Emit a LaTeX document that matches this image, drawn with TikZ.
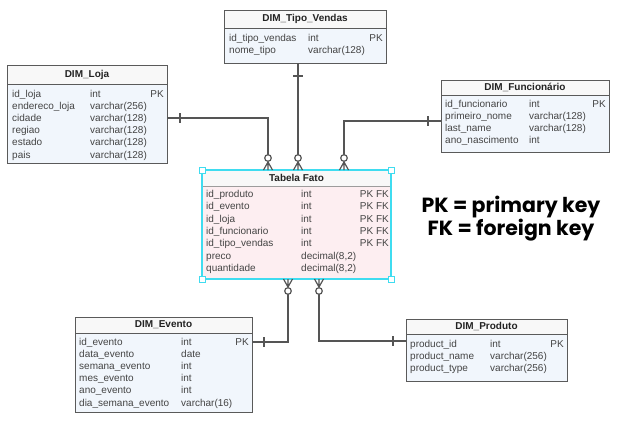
\documentclass[tikz,border=0pt]{standalone}
\usepackage{fontspec}
\setmainfont{Liberation Sans}
\newfontfamily\legendfont{Poppins}
\usetikzlibrary{calc}
\definecolor{boxline}{HTML}{5A5A5A}
\definecolor{boxfill}{HTML}{F1F6FC}
\definecolor{hdrfill}{HTML}{F8F8F8}
\definecolor{factfill}{HTML}{FDEEF1}
\definecolor{selcyan}{HTML}{3FDCF0}
\definecolor{conncol}{HTML}{555555}
\definecolor{rowcol}{HTML}{444444}
\definecolor{titlecol}{HTML}{222222}
\newcommand\erow[9]{%
  \node[rowtxt] (#1n#2) at (#4,#3) {#5};
  \node[rowtxt] (#1t#2) at (#6,#3) {#7};
  \node[keytxt] (#1k#2) at (#8,#3) {#9};
}
\begin{document}
\begin{tikzpicture}[x=1pt,y=-1pt,
  tbl/.style={draw=boxline,line width=0.9pt,fill=boxfill,anchor=north west,inner sep=0pt,outer sep=0pt},
  hdr/.style={draw=boxline,line width=0.9pt,fill=hdrfill,anchor=north west,inner sep=0pt,outer sep=0pt},
  ttl/.style={font=\fontsize{10}{12}\selectfont\bfseries,text=titlecol,inner sep=0pt},
  rowtxt/.style={font=\fontsize{10}{12}\selectfont,text=rowcol,anchor=base west,inner sep=0pt},
  keytxt/.style={font=\fontsize{10}{12}\selectfont,text=rowcol,anchor=base east,inner sep=0pt},
  conn/.style={draw=conncol,line width=1.2pt},
  handle/.style={draw=selcyan,fill=white,line width=1pt,minimum size=6pt,inner sep=0pt,outer sep=0pt},
  legend/.style={font=\legendfont\bfseries\fontsize{20.5}{17}\selectfont,text=black,anchor=base,inner sep=0pt},
  crowdown/.pic={
    \draw[conn] (-4.5,0) -- (0,-8) -- (4.5,0) (0,0) -- (0,-8);
    \draw[conn,fill=white] (0,-12) circle (3.3pt);
  },
  crowup/.pic={
    \draw[conn] (-4.5,0) -- (0,8) -- (4.5,0) (0,0) -- (0,8);
    \draw[conn,fill=white] (0,12) circle (3.3pt);
  }]
\useasboundingbox[fill=white] (0,0) rectangle (624,421);

% ---------- DIM_Tipo_Vendas ----------
\node[tbl,minimum width=162pt,minimum height=53pt] (tipo) at (224,10) {};
\node[hdr,minimum width=162pt,minimum height=18pt] (tipoh) at (224,10) {};
\node[ttl] (tipot) at (tipoh.center) {DIM\_Tipo\_Vendas};
\erow{tipo}{1}{41}{229}{id\_tipo\_vendas}{308}{int}{383}{PK}
\erow{tipo}{2}{53}{229}{nome\_tipo}{308}{varchar(128)}{383}{}

% ---------- DIM_Loja ----------
\node[tbl,minimum width=160pt,minimum height=98pt] (loja) at (7,65) {};
\node[hdr,minimum width=160pt,minimum height=19pt] (lojah) at (7,65) {};
\node[ttl] (lojat) at (lojah.center) {DIM\_Loja};
\erow{loja}{1}{97}{12}{id\_loja}{90}{int}{164}{PK}
\erow{loja}{2}{109.2}{12}{endereco\_loja}{90}{varchar(256)}{164}{}
\erow{loja}{3}{121.4}{12}{cidade}{90}{varchar(128)}{164}{}
\erow{loja}{4}{133.6}{12}{regiao}{90}{varchar(128)}{164}{}
\erow{loja}{5}{145.8}{12}{estado}{90}{varchar(128)}{164}{}
\erow{loja}{6}{158}{12}{pais}{90}{varchar(128)}{164}{}

% ---------- DIM_Funcionario ----------
\node[tbl,minimum width=168pt,minimum height=72pt] (func) at (441,80) {};
\node[hdr,minimum width=168pt,minimum height=15pt] (funch) at (441,80) {};
\node[ttl] (funct) at (funch.center) {DIM\_Funcionário};
\erow{func}{1}{107.5}{445}{id\_funcionario}{529}{int}{606}{PK}
\erow{func}{2}{119.5}{445}{primeiro\_nome}{529}{varchar(128)}{606}{}
\erow{func}{3}{131.5}{445}{last\_name}{529}{varchar(128)}{606}{}
\erow{func}{4}{143.5}{445}{ano\_nascimento}{529}{int}{606}{}

% ---------- Tabela Fato ----------
\node[anchor=north west,fill=factfill,minimum width=189pt,minimum height=109pt,inner sep=0pt,outer sep=0pt] (fact) at (202,170) {};
\node[anchor=north west,fill=hdrfill,minimum width=189pt,minimum height=16pt,inner sep=0pt,outer sep=0pt] (facth) at (202,170) {};
\draw[boxline!60,line width=0.8pt] (facth.south west) -- (facth.south east);
\draw[selcyan,line width=1.4pt] (fact.north west) rectangle (fact.south east);
\node[ttl] (factt) at (facth.center) {Tabela Fato};
\erow{fact}{1}{197.5}{206}{id\_produto}{301}{int}{389}{PK FK}
\erow{fact}{2}{209.8}{206}{id\_evento}{301}{int}{389}{PK FK}
\erow{fact}{3}{222.1}{206}{id\_loja}{301}{int}{389}{PK FK}
\erow{fact}{4}{234.4}{206}{id\_funcionario}{301}{int}{389}{PK FK}
\erow{fact}{5}{246.7}{206}{id\_tipo\_vendas}{301}{int}{389}{PK FK}
\erow{fact}{6}{259}{206}{preco}{301}{decimal(8,2)}{389}{}
\erow{fact}{7}{271.3}{206}{quantidade}{301}{decimal(8,2)}{389}{}
\node[handle] (h1) at (fact.north west) {};
\node[handle] (h2) at (fact.north east) {};
\node[handle] (h3) at (fact.south west) {};
\node[handle] (h4) at (fact.south east) {};

% ---------- DIM_Evento ----------
\node[tbl,minimum width=177pt,minimum height=95pt] (evt) at (75,317) {};
\node[hdr,minimum width=177pt,minimum height=16pt] (evth) at (75,317) {};
\node[ttl] (evtt) at (evth.center) {DIM\_Evento};
\erow{evt}{1}{345}{79}{id\_evento}{181}{int}{249}{PK}
\erow{evt}{2}{357.2}{79}{data\_evento}{181}{date}{249}{}
\erow{evt}{3}{369.4}{79}{semana\_evento}{181}{int}{249}{}
\erow{evt}{4}{381.6}{79}{mes\_evento}{181}{int}{249}{}
\erow{evt}{5}{393.8}{79}{ano\_evento}{181}{int}{249}{}
\erow{evt}{6}{406}{79}{dia\_semana\_evento}{181}{varchar(16)}{249}{}

% ---------- DIM_Produto ----------
\node[tbl,minimum width=161pt,minimum height=62pt] (prod) at (406,319) {};
\node[hdr,minimum width=161pt,minimum height=15pt] (prodh) at (406,319) {};
\node[ttl] (prodt) at (prodh.center) {DIM\_Produto};
\erow{prod}{1}{347.5}{410}{product\_id}{490}{int}{564}{PK}
\erow{prod}{2}{359.5}{410}{product\_name}{490}{varchar(256)}{564}{}
\erow{prod}{3}{371.5}{410}{product\_type}{490}{varchar(256)}{564}{}

% ---------- connectors ----------
\coordinate (fa) at ($(fact.north)+(-28.5,0)$);
\coordinate (fb) at ($(fact.north)+(1.5,0)$);
\coordinate (fc) at ($(fact.north)+(47.5,0)$);
\coordinate (fd) at ($(fact.south)+(-8.5,0)$);
\coordinate (fe) at ($(fact.south)+(22.5,0)$);

% Loja
\draw[conn] ($(loja.east)+(0,4)$) -| ($(fa)+(0,-12)$);
\draw[conn] ($(loja.east)+(13,-1)$) -- ++(0,10);
% Tipo_Vendas
\draw[conn] (fb |- tipo.south) -- ($(fb)+(0,-12)$);
\draw[conn] ($(fb |- tipo.south)+(-5,13)$) -- ++(10,0);
% Funcionario
\draw[conn] ($(func.west)+(0,5)$) -| ($(fc)+(0,-12)$);
\draw[conn] ($(func.west)+(-13,0)$) -- ++(0,10);
% Evento
\draw[conn] ($(fd)+(0,12)$) |- ($(evt.east)+(0,-22.5)$);
\draw[conn] ($(evt.east)+(12,-27.5)$) -- ++(0,10);
% Produto
\draw[conn] ($(fe)+(0,12)$) |- ($(prod.west)+(0,-9)$);
\draw[conn] ($(prod.west)+(-13,-14)$) -- ++(0,10);

\pic at (fa) {crowdown};
\pic at (fb) {crowdown};
\pic at (fc) {crowdown};
\pic at (fd) {crowup};
\pic at (fe) {crowup};

% ---------- legend ----------
\node[legend] (leg1) at (511,212) {PK = primary key};
\node[legend] (leg2) at (511,235) {FK = foreign key};
\end{tikzpicture}
\end{document}
